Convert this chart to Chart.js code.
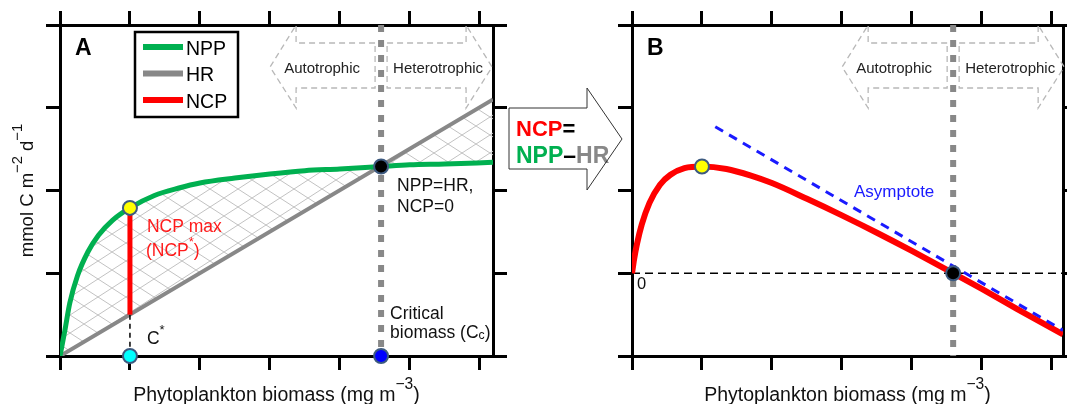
<!DOCTYPE html>
<html>
<head>
<meta charset="utf-8">
<script src="https://cdn.jsdelivr.net/npm/chart.js@4.4.0/dist/chart.umd.min.js"></script>
<style>
  body { margin: 0; background: #fff; }
  #wrap { position: relative; width: 1067px; height: 404px; overflow: hidden; }
  canvas { position: absolute; top: 0; }
</style>
</head>
<body>
<div id="wrap">
  <canvas id="chartA" style="left:0" width="625" height="404"></canvas>
  <canvas id="chartB" style="left:600px" width="480" height="404"></canvas>
</div>
<script>
// ---- data ----
// panel A: NPP and HR against phytoplankton biomass
const biomassA = [0, 0.07, 0.14, 0.25, 0.4, 0.55, 0.75, 1, 1.35, 1.7, 2, 2.5, 3, 3.5, 4, 4.59, 5, 5.5, 6.19];
const nppValues = [0, 0.31, 0.64, 0.97, 1.26, 1.46, 1.64, 1.79, 1.94, 2.03, 2.09, 2.15, 2.20, 2.24, 2.26, 2.29, 2.31, 2.32, 2.34];
const hrBiomass = [0, 6.19];
const hrValues = [0, 3.1];
const cStar = 1;        // biomass at NCP max
const cCrit = 4.59;     // critical biomass
const nppAtCStar = 1.79;
const hrAtCStar = 0.5;
const nppAtCrit = 2.29;

// panel B: NCP = NPP - HR
const biomassB = [0, 0.03, 0.07, 0.14, 0.25, 0.4, 0.55, 0.75, 1, 1.35, 1.7, 2, 2.5, 3, 3.5, 4, 4.59, 5, 5.5, 6.16];
const ncpValues = [0, 0.17, 0.35, 0.59, 0.85, 1.07, 1.19, 1.27, 1.29, 1.26, 1.18, 1.09, 0.9, 0.7, 0.49, 0.27, 0, -0.19, -0.43, -0.74];
const asymBiomass = [1.19, 6.16];
const asymValues = [1.77, -0.69];
const ncpMax = 1.29;

// ticks
const xTicks = [0, 1, 2, 3, 4, 5, 6];
const yTicksA = [0, 1, 2, 3, 4];
const yTicksB = [-1, 0, 1, 2, 3];

const seriesNames = ['NPP', 'HR', 'NCP'];
const seriesColors = ['#00b050', '#888888', '#ff0000'];

const FONT = '"Liberation Sans", Arial, sans-serif';

// cross hatch for the area between NPP and HR
const hatchTile = document.createElement('canvas');
hatchTile.width = 28; hatchTile.height = 18;
const ht = hatchTile.getContext('2d');
ht.strokeStyle = '#c2c2c2';
ht.lineWidth = 1;
ht.beginPath();
ht.moveTo(-2.8, -1.8); ht.lineTo(30.8, 19.8);
ht.moveTo(-2.8, 19.8); ht.lineTo(30.8, -1.8);
ht.stroke();
const hatch = document.getElementById('chartA').getContext('2d').createPattern(hatchTile, 'repeat');

function pts(xs, ys) {
  return xs.map((x, i) => ({x: x, y: ys[i]}));
}

// text with raised / lowered pieces
function drawRich(ctx, parts, x, y, size, opts) {
  opts = opts || {};
  const weight = opts.bold ? 'bold ' : '';
  const fontOf = p => weight + (size * (p.s || 1)) + 'px ' + FONT;
  const widths = parts.map(p => { ctx.font = fontOf(p); return ctx.measureText(p.t).width; });
  const total = widths.reduce((a, b) => a + b, 0);
  let px = opts.align === 'center' ? x - total / 2 : x;
  ctx.textAlign = 'left';
  ctx.textBaseline = 'alphabetic';
  parts.forEach((p, i) => {
    ctx.font = fontOf(p);
    ctx.fillStyle = p.c || opts.color || '#111';
    ctx.fillText(p.t, px, y - (p.dy || 0) * size);
    px += widths[i];
  });
}

function xTitle(ctx, area) {
  drawRich(ctx, [{t: 'Phytoplankton biomass (mg m'}, {t: '\u22123', s: 0.8, dy: 0.6}, {t: ')'}],
    (area.left + area.right) / 2, 401, 19.5, {align: 'center'});
}

// dashed "Autotrophic | Heterotrophic" arrows around the critical biomass
function trophicArrows(ctx, cx, top) {
  ctx.save();
  ctx.strokeStyle = '#b8b8b8';
  ctx.lineWidth = 1.3;
  ctx.setLineDash([6, 4]);
  [-1, 1].forEach(d => {
    ctx.beginPath();
    ctx.moveTo(cx + d * 6, top + 18);
    ctx.lineTo(cx + d * 85, top + 18);
    ctx.lineTo(cx + d * 85, top);
    ctx.lineTo(cx + d * 111, top + 42);
    ctx.lineTo(cx + d * 85, top + 83);
    ctx.lineTo(cx + d * 85, top + 63);
    ctx.lineTo(cx + d * 6, top + 63);
    ctx.closePath();
    ctx.stroke();
  });
  ctx.setLineDash([]);
  drawRich(ctx, [{t: 'Autotrophic'}], cx - 59, top + 47.5, 15, {align: 'center', color: '#222'});
  drawRich(ctx, [{t: 'Heterotrophic'}], cx + 57, top + 47.5, 15, {align: 'center', color: '#222'});
  ctx.restore();
}

function axis(position, min, max, ticks, size) {
  return {
    type: 'linear',
    position: position,
    min: min,
    max: max,
    afterBuildTicks: s => { s.ticks = ticks.map(v => ({value: v})); },
    afterFit: s => {
      if (position === 'left' || position === 'right') s.width = size;
      else s.height = size;
    },
    ticks: {display: false},
    grid: {drawOnChartArea: false, drawTicks: true, tickLength: 14, color: '#000', lineWidth: 3},
    border: {display: true, color: '#000', width: 3}
  };
}

const dotStyle = {
  showLine: false,
  pointRadius: 7,
  pointBorderColor: '#3d5a80',
  pointBorderWidth: 2,
  clip: false
};

/* panel A decorations */
const decorA = {
  id: 'decorA',
  beforeDatasetsDraw(chart) {
    trophicArrows(chart.ctx, chart.scales.x.getPixelForValue(cCrit), chart.chartArea.top);
  },
  afterDatasetsDraw(chart) {
    const ctx = chart.ctx, area = chart.chartArea;
    const sx = chart.scales.x;
    ctx.save();
    // panel letter
    drawRich(ctx, [{t: 'A'}], area.left + 15, 55, 23, {bold: true, color: '#000'});

    // legend
    ctx.fillStyle = '#fff';
    ctx.fillRect(135, 32, 103, 85);
    ctx.strokeStyle = '#000';
    ctx.lineWidth = 2.5;
    ctx.strokeRect(135, 32, 103, 85);
    seriesNames.forEach((n, i) => {
      const ly = 47 + i * 26.5;
      ctx.strokeStyle = seriesColors[i];
      ctx.lineWidth = 6;
      ctx.beginPath();
      ctx.moveTo(143, ly);
      ctx.lineTo(183, ly);
      ctx.stroke();
      drawRich(ctx, [{t: n}], 186, ly + 7.5, 19.5, {color: '#000'});
    });

    // annotations
    const xs = sx.getPixelForValue(cStar);
    const xc = sx.getPixelForValue(cCrit);
    drawRich(ctx, [{t: 'NCP max'}], xs + 17, 232, 17.5, {color: '#ff1a1a'});
    drawRich(ctx, [{t: '(NCP'}, {t: '*', s: 0.75, dy: 0.55}, {t: ')'}], xs + 16, 256, 17.5, {color: '#ff1a1a'});
    drawRich(ctx, [{t: 'C'}, {t: '*', s: 0.75, dy: 0.6}], xs + 17, 344, 17.5);
    drawRich(ctx, [{t: 'NPP=HR,'}], xc + 16, 191, 17.5);
    drawRich(ctx, [{t: 'NCP=0'}], xc + 16, 212, 17.5);
    drawRich(ctx, [{t: 'Critical'}], xc + 9, 319, 17.5);
    drawRich(ctx, [{t: 'biomass (C'}, {t: 'c', s: 0.7, dy: -0.05}, {t: ')'}], xc + 9, 338, 17.5);

    // axis titles
    xTitle(ctx, area);
    ctx.save();
    ctx.translate(33, (area.top + area.bottom) / 2);
    ctx.rotate(-Math.PI / 2);
    drawRich(ctx, [{t: 'mmol C m'}, {t: '\u22122', s: 0.8, dy: 0.6}, {t: ' d'}, {t: '\u22121', s: 0.8, dy: 0.6}],
      0, 0, 18.5, {align: 'center'});
    ctx.restore();

    // block arrow between the panels
    ctx.beginPath();
    ctx.moveTo(509, 108);
    ctx.lineTo(587, 108);
    ctx.lineTo(587, 88);
    ctx.lineTo(622, 139);
    ctx.lineTo(587, 190);
    ctx.lineTo(587, 169);
    ctx.lineTo(509, 169);
    ctx.closePath();
    ctx.fillStyle = '#fff';
    ctx.fill();
    drawRich(ctx, [{t: 'NCP', c: '#ff0000'}, {t: '=', c: '#000'}], 516, 136, 22, {bold: true});
    drawRich(ctx, [{t: 'NPP', c: '#00b050'}, {t: '\u2013', c: '#000'}, {t: 'HR', c: '#888'}], 516, 163, 23, {bold: true});
    ctx.strokeStyle = '#333';
    ctx.lineWidth = 1;
    ctx.stroke();
    ctx.restore();
  }
};

/* panel B decorations */
const decorB = {
  id: 'decorB',
  beforeDatasetsDraw(chart) {
    trophicArrows(chart.ctx, chart.scales.x.getPixelForValue(cCrit), chart.chartArea.top);
  },
  afterDatasetsDraw(chart) {
    const ctx = chart.ctx, area = chart.chartArea;
    const y0 = chart.scales.y.getPixelForValue(0);
    ctx.save();
    drawRich(ctx, [{t: 'B'}], area.left + 15, 55, 23, {bold: true, color: '#000'});
    drawRich(ctx, [{t: '0'}], area.left + 5, y0 + 16, 16.5);
    drawRich(ctx, [{t: 'Asymptote'}], area.left + 222, 197, 17, {color: '#1a1aff'});
    xTitle(ctx, area);
    ctx.restore();
  }
};

new Chart(document.getElementById('chartA'), {
  type: 'line',
  data: {
    datasets: [
      {label: 'NPP', data: pts(biomassA, nppValues), borderColor: seriesColors[0], borderWidth: 5,
       pointRadius: 0, cubicInterpolationMode: 'monotone', fill: 1, backgroundColor: hatch, order: 5},
      {label: 'HR', data: pts(hrBiomass, hrValues), borderColor: seriesColors[1], borderWidth: 4,
       pointRadius: 0, order: 6},
      {label: 'Critical biomass', data: [{x: cCrit, y: 4}, {x: cCrit, y: 0}], borderColor: '#888',
       borderWidth: 6, borderDash: [7, 8], pointRadius: 0, order: 4},
      {label: 'NCP max', data: [{x: cStar, y: hrAtCStar}, {x: cStar, y: nppAtCStar}], borderColor: seriesColors[2],
       borderWidth: 5, pointRadius: 0, order: 3},
      {label: 'C* guide', data: [{x: cStar, y: hrAtCStar}, {x: cStar, y: 0}], borderColor: '#000',
       borderWidth: 1.5, borderDash: [5, 4], pointRadius: 0, order: 3},
      Object.assign({label: 'points',
        data: [{x: cStar, y: 0}, {x: cCrit, y: 0}, {x: cStar, y: nppAtCStar}, {x: cCrit, y: nppAtCrit}],
        pointBackgroundColor: ['#00ffff', '#0000ff', '#ffff00', '#000000'], order: 1}, dotStyle)
    ]
  },
  options: {
    responsive: false,
    animation: false,
    devicePixelRatio: 1,
    events: [],
    layout: {padding: {left: 0, top: 0, right: 115, bottom: 0}},
    plugins: {legend: {display: false}, tooltip: {enabled: false}, filler: {drawTime: 'beforeDatasetsDraw'}},
    scales: {
      x: axis('bottom', 0, 6.19, xTicks, 48),
      x2: axis('top', 0, 6.19, xTicks, 25),
      y: axis('left', 0, 4, yTicksA, 60),
      y2: axis('right', 0, 4, yTicksA, 17)
    }
  },
  plugins: [decorA]
});

new Chart(document.getElementById('chartB'), {
  type: 'line',
  data: {
    datasets: [
      {label: 'zero', data: [{x: 0, y: 0}, {x: 6.16, y: 0}], borderColor: '#000', borderWidth: 1.5,
       borderDash: [8, 5], pointRadius: 0, order: 7},
      {label: 'Critical biomass', data: [{x: cCrit, y: 3}, {x: cCrit, y: -1}], borderColor: '#888',
       borderWidth: 6, borderDash: [7, 8], pointRadius: 0, order: 6},
      {label: 'NCP', data: pts(biomassB, ncpValues), borderColor: '#ff0000', borderWidth: 6,
       pointRadius: 0, cubicInterpolationMode: 'monotone', order: 5},
      {label: 'Asymptote', data: pts(asymBiomass, asymValues), borderColor: '#1a1aff', borderWidth: 3,
       borderDash: [9, 7], pointRadius: 0, order: 4},
      Object.assign({label: 'points', data: [{x: cStar, y: ncpMax}, {x: cCrit, y: 0}],
        pointBackgroundColor: ['#ffff00', '#000000'], order: 1}, dotStyle)
    ]
  },
  options: {
    responsive: false,
    animation: false,
    devicePixelRatio: 1,
    events: [],
    layout: {padding: 0},
    plugins: {legend: {display: false}, tooltip: {enabled: false}},
    scales: {
      x: axis('bottom', 0, 6.16, xTicks, 48),
      x2: axis('top', 0, 6.16, xTicks, 25),
      y: axis('left', -1, 3, yTicksB, 32),
      y2: axis('right', -1, 3, yTicksB, 17)
    }
  },
  plugins: [decorB]
});
</script>
</body>
</html>
